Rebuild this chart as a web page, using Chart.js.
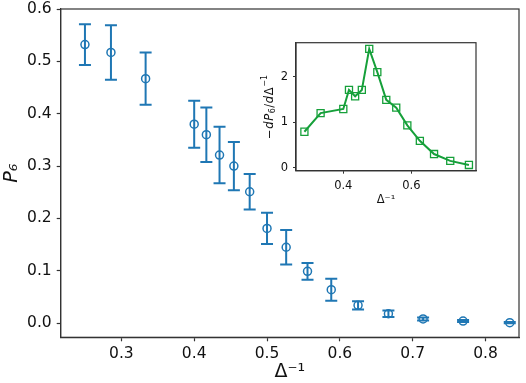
<!DOCTYPE html>
<html>
<head>
<meta charset="utf-8">
<script src="https://cdn.jsdelivr.net/npm/chart.js@4/dist/chart.umd.min.js"></script>
<style>
html, body { margin: 0; padding: 0; background: #fff; }
#wrap { position: relative; width: 526px; height: 383px; }
#mainChart { position: absolute; left: 0; top: 0; }
#insetChart { position: absolute; left: 255px; top: 30px; }
</style>
</head>
<body>
<div id="wrap">
    <canvas id="mainChart" width="526" height="383"></canvas>
    <canvas id="insetChart" width="230" height="185"></canvas>
</div>
<script>
// main panel: P6 against inverse Delta, with error bars
const invDelta = [0.25, 0.2857, 0.3333, 0.4, 0.4167, 0.4348, 0.4545, 0.4762, 0.5, 0.5263, 0.5556, 0.5882, 0.625, 0.6667, 0.7143, 0.7692, 0.8333];
const p6 = [0.532, 0.517, 0.467, 0.380, 0.360, 0.321, 0.300, 0.251, 0.181, 0.145, 0.099, 0.064, 0.034, 0.018, 0.008, 0.004, 0.001];
const p6Err = [0.039, 0.052, 0.050, 0.045, 0.052, 0.054, 0.046, 0.034, 0.030, 0.033, 0.016, 0.021, 0.008, 0.006, 0.003, 0.002, 0.001];
const mainXTicks = [0.3, 0.4, 0.5, 0.6, 0.7, 0.8];
const mainYTicks = [0.0, 0.1, 0.2, 0.3, 0.4, 0.5, 0.6];

// inset: -dP6/dDelta^-1
const insetX = [0.2857, 0.3333, 0.4, 0.4167, 0.4348, 0.4545, 0.4762, 0.5, 0.5263, 0.5556, 0.5882, 0.625, 0.6667, 0.7143, 0.7692];
const dP6 = [0.79, 1.20, 1.29, 1.71, 1.57, 1.71, 2.61, 2.10, 1.49, 1.32, 0.93, 0.59, 0.30, 0.15, 0.06];
const insetXTicks = [0.4, 0.6];
const insetYTicks = [0, 1, 2];

const BLUE = '#1f77b4';
const GREEN = '#16a03a';
const AXIS = '#333333';
const TEXT = '#111111';
const FONT = "'DejaVu Sans', sans-serif";

Chart.defaults.font.family = FONT;
Chart.defaults.color = TEXT;

const frame = {
    id: 'frame',
    afterDraw(chart) {
        const a = chart.chartArea;
        const ctx = chart.ctx;
        ctx.save();
        ctx.strokeStyle = AXIS;
        ctx.lineWidth = 1.2;
        ctx.strokeRect(a.left, a.top, a.right - a.left, a.bottom - a.top);
        ctx.restore();
    }
};

const errorBars = {
    id: 'errorBars',
    beforeDatasetsDraw(chart) {
        const xs = chart.scales.x, ys = chart.scales.y;
        const ctx = chart.ctx;
        ctx.save();
        ctx.strokeStyle = BLUE;
        ctx.lineWidth = 2;
        invDelta.forEach((x, i) => {
            const px = xs.getPixelForValue(x);
            const top = ys.getPixelForValue(p6[i] + p6Err[i]);
            const bot = ys.getPixelForValue(p6[i] - p6Err[i]);
            ctx.beginPath();
            ctx.moveTo(px, top); ctx.lineTo(px, bot);
            ctx.moveTo(px - 6, top); ctx.lineTo(px + 6, top);
            ctx.moveTo(px - 6, bot); ctx.lineTo(px + 6, bot);
            ctx.stroke();
        });
        ctx.restore();
    }
};

// rotated y title of the inset, with italic d and P like the mathtext label
const insetTitle = {
    id: 'insetTitle',
    afterDraw(chart) {
        const a = chart.chartArea;
        const ctx = chart.ctx;
        const parts = [
            ['−', '', 11.5, 0], ['d', 'italic ', 11.5, 0], ['P', 'italic ', 11.5, 0],
            ['6', '', 8, 2.5], ['/', '', 11.5, 0], ['d', 'italic ', 11.5, 0],
            ['Δ', '', 11.5, 0], ['−1', '', 8, -5]
        ];
        ctx.save();
        let total = 0;
        parts.forEach(p => { ctx.font = p[1] + p[2] + 'px ' + FONT; total += ctx.measureText(p[0]).width + 0.6; });
        ctx.translate(15, (a.top + a.bottom) / 2);
        ctx.rotate(-Math.PI / 2);
        ctx.fillStyle = TEXT;
        ctx.textBaseline = 'middle';
        let x = -total / 2;
        parts.forEach(p => {
            ctx.font = p[1] + p[2] + 'px ' + FONT;
            ctx.fillText(p[0], x, p[3]);
            x += ctx.measureText(p[0]).width + 0.6;
        });
        ctx.restore();
    }
};

function fixedBox(size, horizontal) {
    return function (s) {
        if (horizontal) s.height = size; else s.width = size;
        s.paddingLeft = 0; s.paddingRight = 0; s.paddingTop = 0; s.paddingBottom = 0;
    };
}

new Chart(document.getElementById('mainChart'), {
    type: 'scatter',
    data: {
        datasets: [{
            data: invDelta.map((x, i) => ({ x: x, y: p6[i] })),
            borderColor: BLUE,
            backgroundColor: 'rgba(0,0,0,0)',
            pointStyle: 'circle',
            pointRadius: 4,
            pointBorderWidth: 1.5
        }]
    },
    options: {
        responsive: false,
        animation: false,
        layout: { padding: { top: 9, right: 7, left: 0, bottom: 0 } },
        plugins: { legend: { display: false }, tooltip: { enabled: false } },
        scales: {
            x: {
                type: 'linear',
                min: 0.2167,
                max: 0.846,
                afterBuildTicks: s => { s.ticks = mainXTicks.map(v => ({ value: v })); },
                afterFit: fixedBox(45.7, true),
                ticks: { callback: v => v.toFixed(1), font: { size: 15.5 }, padding: 3, maxRotation: 0, autoSkip: false },
                grid: { drawOnChartArea: false, tickLength: 4, color: AXIS, tickWidth: 1.2 },
                border: { color: AXIS, width: 1.2 },
                title: { display: true, text: 'Δ⁻¹', font: { size: 19 }, padding: 0 }
            },
            y: {
                type: 'linear',
                min: -0.027,
                max: 0.6,
                afterBuildTicks: s => { s.ticks = mainYTicks.map(v => ({ value: v })); },
                afterFit: fixedBox(60.7, false),
                ticks: { callback: v => v.toFixed(1), font: { size: 15.5 }, padding: 5, autoSkip: false },
                grid: { drawOnChartArea: false, tickLength: 4, color: AXIS, tickWidth: 1.2 },
                border: { color: AXIS, width: 1.2 },
                title: { display: true, text: 'P₆', font: { size: 19, style: 'italic' }, padding: 1 }
            }
        }
    },
    plugins: [errorBars, frame]
});

new Chart(document.getElementById('insetChart'), {
    type: 'scatter',
    data: {
        datasets: [{
            data: insetX.map((x, i) => ({ x: x, y: dP6[i] })),
            showLine: true,
            borderColor: GREEN,
            borderWidth: 2,
            backgroundColor: 'rgba(0,0,0,0)',
            pointStyle: 'rect',
            pointRadius: 5,
            pointBorderWidth: 1.3,
            pointBorderColor: GREEN
        }]
    },
    options: {
        responsive: false,
        animation: false,
        layout: { padding: { top: 12.7, right: 9, left: 0, bottom: 0 } },
        plugins: { legend: { display: false }, tooltip: { enabled: false } },
        scales: {
            x: {
                type: 'linear',
                min: 0.261,
                max: 0.790,
                afterBuildTicks: s => { s.ticks = insetXTicks.map(v => ({ value: v })); },
                afterFit: fixedBox(44.3, true),
                ticks: { callback: v => v.toFixed(1), font: { size: 11.5 }, padding: 5, maxRotation: 0, autoSkip: false },
                grid: { drawOnChartArea: false, tickLength: 3, color: AXIS },
                border: { color: AXIS, width: 1.2 },
                title: { display: true, text: 'Δ⁻¹', font: { size: 11.5 }, padding: { top: 0, bottom: 8 } }
            },
            y: {
                type: 'linear',
                min: -0.066,
                max: 2.747,
                afterBuildTicks: s => { s.ticks = insetYTicks.map(v => ({ value: v })); },
                afterFit: fixedBox(41, false),
                ticks: { callback: v => String(v), font: { size: 11.5 }, padding: 5, autoSkip: false },
                grid: { drawOnChartArea: false, tickLength: 3, color: AXIS },
                border: { color: AXIS, width: 1.2 },
                title: { display: false }
            }
        }
    },
    plugins: [frame, insetTitle]
});
</script>
</body>
</html>
